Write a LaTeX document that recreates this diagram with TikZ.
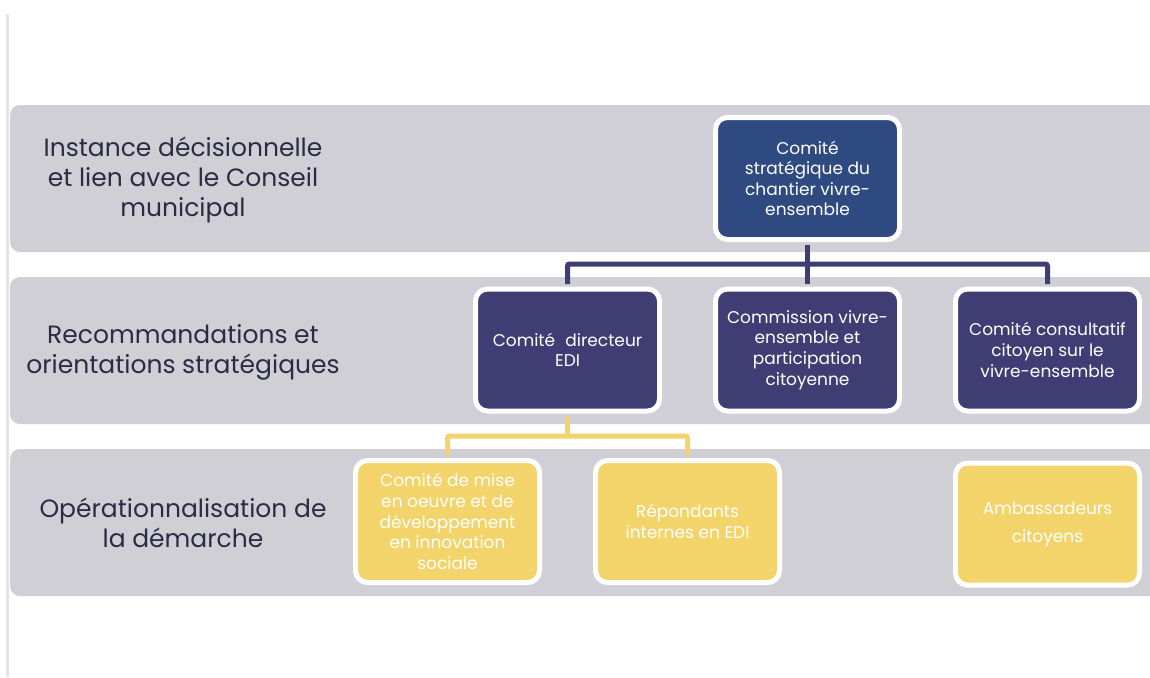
\documentclass[tikz,border=0pt]{standalone}
\usepackage{fontspec}
\setmainfont{Poppins}
\definecolor{bandgray}{HTML}{D0CFD6}
\definecolor{topblue}{HTML}{2E4A80}
\definecolor{navy}{HTML}{3F3D73}
\definecolor{gold}{HTML}{F2D46B}
\definecolor{labeltxt}{HTML}{2B2B45}
\definecolor{rulegray}{HTML}{E4E4E4}
\tikzset{
  band/.style={fill=bandgray, rounded corners=10pt},
  boxbase/.style={draw=white, line width=5pt, rounded corners=12pt,
    minimum width=184pt, minimum height=122pt, align=center,
    text=white, font=\fontsize{17}{20.6}\selectfont, inner sep=2pt},
  bluebox/.style={boxbase, fill=topblue},
  navybox/.style={boxbase, fill=navy},
  goldbox/.style={boxbase, fill=gold},
  bandlabel/.style={align=center, text=labeltxt, font=\fontsize{25}{29.8}\selectfont},
  navyline/.style={draw=navy, line width=5pt, rounded corners=2pt},
  goldline/.style={draw=gold, line width=5pt, rounded corners=2pt},
}
\begin{document}
\begin{tikzpicture}[x=1pt,y=-1pt]
\useasboundingbox (0,0) rectangle (1150,677);
\fill[white] (0,0) rectangle (1150,677);
\fill[rulegray] (6,14) rectangle (9,677);
\begin{scope}
\clip (0,0) rectangle (1150,677);
\fill[band] (10,105) rectangle (1190,252);
\fill[band] (10,277) rectangle (1190,424);
\fill[band] (10,449) rectangle (1190,596);
\end{scope}
\node[bandlabel] (l1) at (183,180) {Instance décisionnelle\\et lien avec le Conseil\\municipal};
\node[bandlabel] (l2) at (183,352) {Recommandations et\\orientations stratégiques};
\node[bandlabel] (l3) at (183,523) {Opérationnalisation de\\la démarche};

\node[bluebox] (top) at (807.5,178.5) {Comité\\stratégique du\\chantier vivre-\\ensemble};
\node[navybox] (dir) at (567.5,350) {Comité\hspace{0.6em}directeur\\EDI};
\node[navybox] (comm) at (807.5,350) {Commission vivre-\\ensemble et\\participation\\citoyenne};
\node[navybox] (cons) at (1047.5,350) {Comité consultatif\\citoyen sur le\\vivre-ensemble};
\node[goldbox] (mise) at (447.5,521.5) {Comité de mise\\en oeuvre et de\\développement\\en innovation\\sociale};
\node[goldbox] (rep) at (687.5,521.5) {Répondants\\internes en EDI};
\node[goldbox, font=\fontsize{17}{28}\selectfont] (amb) at (1047.5,524) {Ambassadeurs\\citoyens};

\coordinate (j1) at (807.5,264);
\coordinate (j2) at (567.5,436);
\draw[navyline, shorten <=2.5pt, shorten >=2.5pt] (top.south) -- (comm.north);
\draw[navyline, shorten <=2.5pt, shorten >=2.5pt] (dir.north) -- (dir.north |- j1) -- (cons.north |- j1) -- (cons.north);
\draw[goldline, shorten <=2.5pt] (dir.south) -- (j2);
\draw[goldline, shorten <=2.5pt, shorten >=2.5pt] (mise.north) -- (mise.north |- j2) -- (rep.north |- j2) -- (rep.north);
\end{tikzpicture}
\end{document}
